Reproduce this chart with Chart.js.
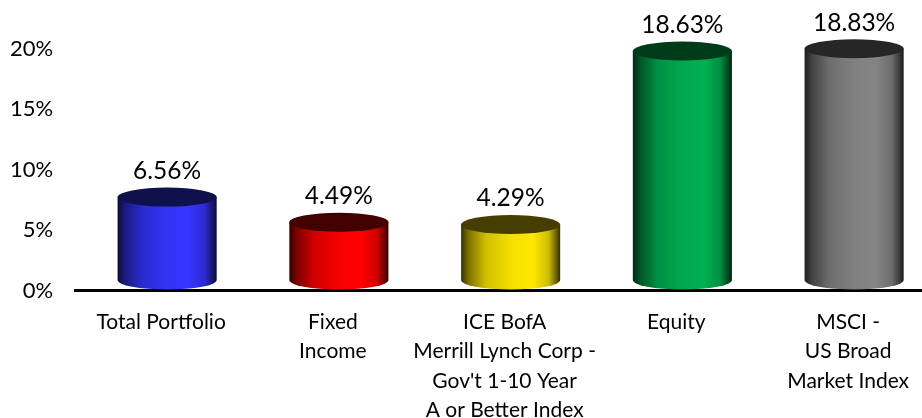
<!DOCTYPE html>
<html>
<head>
<meta charset="utf-8">
<script src="https://cdn.jsdelivr.net/npm/chart.js@4/dist/chart.umd.min.js"></script>
<style>
html, body { margin: 0; padding: 0; overflow: hidden; background: #fff; }
#wrap { width: 934px; height: 418px; position: relative; }
</style>
</head>
<body>
<div id="wrap"><canvas id="c"></canvas></div>
<script>
const categories = [
  ["Total Portfolio"],
  ["Fixed", "Income"],
  ["ICE BofA", "Merrill Lynch Corp -", "Gov't 1-10 Year", "A or Better Index"],
  ["Equity"],
  ["MSCI -", "US Broad", "Market Index"]
];
const returns = [6.56, 4.49, 4.29, 18.63, 18.83];
const yTicks = [0, 5, 10, 15, 20];
const bodyColors = ["#3535ff", "#ff0000", "#ffe800", "#00b050", "#858585"];
const topColors = ["#10104c", "#420000", "#463d00", "#003b1a", "#262626"];

function shade(hex, f) {
  const n = parseInt(hex.slice(1), 16);
  const r = Math.round(((n >> 16) & 255) * f);
  const g = Math.round(((n >> 8) & 255) * f);
  const b = Math.round((n & 255) * f);
  return `rgb(${Math.min(255,r)},${Math.min(255,g)},${Math.min(255,b)})`;
}

const DX = 6, DY_TOP = 14, BOTTOM_LIFT = 10.5, RY = 9.5;

const cylinderPlugin = {
  id: 'cylinders',
  afterDatasetsDraw(chart) {
    const ctx = chart.ctx;
    const meta = chart.getDatasetMeta(0);
    const base = chart.scales.y.getPixelForValue(0);
    meta.data.forEach((el, i) => {
      const cx = el.x + DX;
      const rx = el.width / 2;
      const topY = el.y - DY_TOP;
      const botY = base - BOTTOM_LIFT;
      const col = bodyColors[i];
      const g = ctx.createLinearGradient(cx - rx, 0, cx + rx, 0);
      g.addColorStop(0, shade(col, 0.22));
      g.addColorStop(0.08, shade(col, 0.5));
      g.addColorStop(0.25, shade(col, 0.82));
      g.addColorStop(0.5, shade(col, 0.96));
      g.addColorStop(0.72, shade(col, 1.0));
      g.addColorStop(0.88, shade(col, 0.82));
      g.addColorStop(0.96, shade(col, 0.42));
      g.addColorStop(1, shade(col, 0.2));
      ctx.save();
      ctx.beginPath();
      ctx.moveTo(cx - rx, topY);
      ctx.lineTo(cx - rx, botY);
      ctx.ellipse(cx, botY, rx, RY, 0, Math.PI, 0, true);
      ctx.lineTo(cx + rx, topY);
      ctx.closePath();
      ctx.fillStyle = g;
      ctx.fill();
      ctx.beginPath();
      ctx.ellipse(cx, topY, rx, RY, 0, 0, Math.PI * 2);
      ctx.fillStyle = topColors[i];
      ctx.fill();
      ctx.fillStyle = '#000';
      ctx.font = '24.5px Lato';
      ctx.textAlign = 'center';
      ctx.textBaseline = 'middle';
      ctx.fillText(returns[i].toFixed(2) + '%', cx, topY - 26);
      ctx.restore();
    });
  }
};

new Chart(document.getElementById('c'), {
  type: 'bar',
  data: {
    labels: categories,
    datasets: [{
      data: returns,
      backgroundColor: 'rgba(0,0,0,0)',
      borderWidth: 0,
      barPercentage: 0.577,
      categoryPercentage: 1
    }]
  },
  options: {
    responsive: true,
    maintainAspectRatio: false,
    animation: false,
    events: [],
    layout: { padding: { top: 48.5, right: 0, bottom: 0, left: 0 } },
    plugins: { legend: { display: false }, tooltip: { enabled: false } },
    scales: {
      x: {
        grid: { display: false, drawTicks: false },
        border: { display: true, color: '#000', width: 3 },
        ticks: {
          color: '#000',
          font: { family: 'Lato', size: 21, lineHeight: '29.3px' },
          padding: 17,
          autoSkip: false,
          maxRotation: 0,
          minRotation: 0
        },
        afterFit(scale) { scale.height = 127.5; }
      },
      y: {
        min: 0,
        max: 20,
        grid: { display: false, drawTicks: false },
        border: { display: false },
        afterBuildTicks(scale) { scale.ticks = yTicks.map(v => ({ value: v })); },
        ticks: {
          color: '#000',
          font: { family: 'Lato', size: 22 },
          padding: 22,
          callback: v => v + '%'
        },
        afterFit(scale) { scale.width = 75.25; }
      }
    }
  },
  plugins: [cylinderPlugin]
});
</script>
</body>
</html>
